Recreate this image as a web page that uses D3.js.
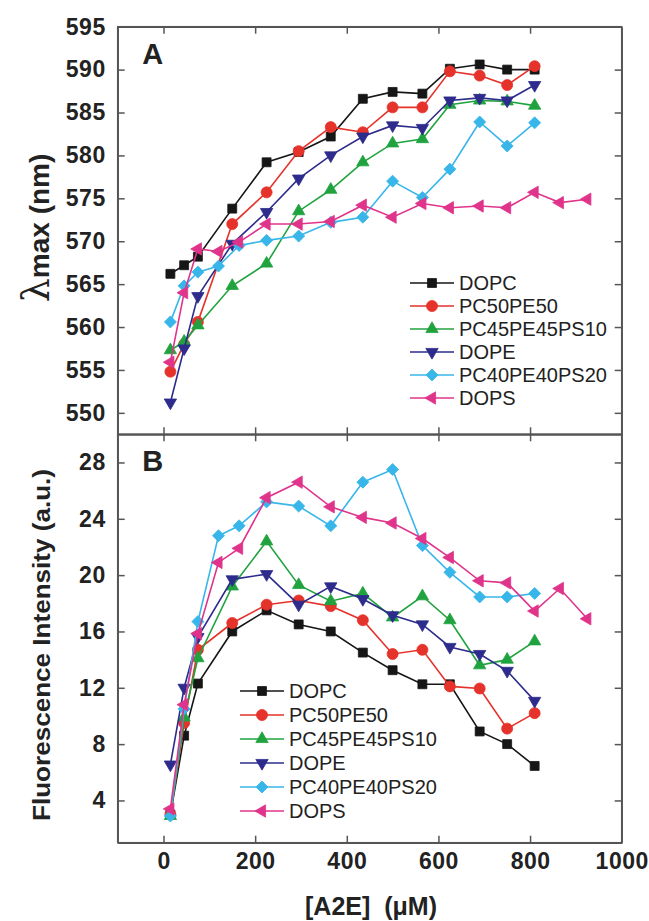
<!DOCTYPE html>
<html>
<head>
<meta charset="utf-8">
<script src="https://cdn.jsdelivr.net/npm/d3@7.9.0/dist/d3.min.js"></script>
<style>
  body { margin: 0; background: #fff; }
  svg { display: block; font-family: "Liberation Sans", Arial, sans-serif; }
  .tick text { font-weight: bold; font-size: 23px; fill: #222; letter-spacing: 0.5px; }
  .tick line, .domain { stroke: #555; stroke-width: 1.5; }
</style>
</head>
<body>
<svg width="649" height="921"></svg>
<script>
// concentrations of A2E (uM) -- two series were sampled at 120/165 instead of 150
const xMain = [15, 45, 75, 150, 225, 295, 365, 435, 500, 565, 625, 690, 750, 810];
const xAlt = [15, 45, 75, 120, 165, 225, 295, 365, 435, 500, 565, 625, 690, 750, 810];
const xDops = [15, 45, 75, 120, 165, 225, 295, 365, 435, 500, 565, 625, 690, 750, 810, 865, 925];

const seriesNames = ['DOPC', 'PC50PE50', 'PC45PE45PS10', 'DOPE', 'PC40PE40PS20', 'DOPS'];

// panel A: lambda max (nm)
const lamDOPC = [566.2, 567.2, 568.2, 573.8, 579.2, 580.4, 582.2, 586.6, 587.4, 587.2, 590.1, 590.6, 590.0, 590.0];
const lamPC50 = [554.8, 558.0, 560.6, 572.0, 575.7, 580.5, 583.3, 582.7, 585.6, 585.6, 589.8, 589.3, 588.2, 590.4];
const lamPC45 = [557.3, 558.3, 560.2, 564.8, 567.4, 573.5, 576.0, 579.2, 581.4, 581.9, 585.9, 586.4, 586.3, 585.8];
const lamDOPE = [551.2, 557.5, 563.6, 569.7, 573.4, 577.3, 580.0, 582.2, 583.5, 583.2, 586.4, 586.7, 586.4, 588.2];
const lamPC40 = [560.6, 564.8, 566.4, 567.1, 569.5, 570.1, 570.6, 572.2, 572.8, 577.0, 575.1, 578.4, 583.9, 581.1, 583.8];
const lamDOPS = [555.9, 564.0, 569.1, 568.8, 569.9, 572.0, 572.0, 572.3, 574.2, 572.8, 574.4, 573.9, 574.1, 573.9, 575.7, 574.5, 574.9];

// panel B: fluorescence intensity (a.u.)
const flDOPC = [3.0, 8.6, 12.3, 16.0, 17.5, 16.5, 16.0, 14.5, 13.25, 12.25, 12.25, 8.9, 8.0, 6.45];
const flPC50 = [3.0, 9.5, 14.7, 16.6, 17.9, 18.2, 17.8, 16.8, 14.4, 14.7, 12.1, 11.95, 9.1, 10.2];
const flPC45 = [2.9, 9.9, 14.1, 19.2, 22.4, 19.3, 18.15, 18.7, 17.0, 18.5, 16.8, 13.6, 14.0, 15.3];
const flDOPE = [6.55, 12.0, 15.6, 19.7, 20.07, 17.9, 19.2, 18.3, 17.15, 16.5, 14.9, 14.4, 13.2, 11.07];
const flPC40 = [2.9, 10.5, 16.7, 22.8, 23.5, 25.2, 24.9, 23.5, 26.6, 27.5, 22.1, 20.2, 18.45, 18.45, 18.7];
const flDOPS = [3.4, 10.8, 15.85, 20.9, 21.9, 25.5, 26.6, 24.85, 24.1, 23.7, 22.6, 21.25, 19.6, 19.45, 17.45, 19.05, 16.9];

const xTicks = [0, 200, 400, 600, 800, 1000];
const lamTicks = [550, 555, 560, 565, 570, 575, 580, 585, 590, 595];
const flTicks = [4, 8, 12, 16, 20, 24, 28];

// styles per series: colour, marker shape, rotation
const colors = ['#161616', '#e5322a', '#20a33f', '#2d2c8c', '#38b6ea', '#e0348b'];
const shapes = ['square', 'circle', 'tri', 'tri', 'diamond', 'tri'];
const rotations = [0, 0, 0, 180, 0, -90];

const svg = d3.select('svg');
const left = 117.7, right = 621.7;
const x = d3.scaleLinear().domain([-100, 1000]).range([left, right]);
const yA = d3.scaleLinear().domain([547.5, 595]).range([434.3, 26.7]);
const yB = d3.scaleLinear().domain([1, 30]).range([842.7, 434.3]);

function symbolPath(shape) {
  if (shape === 'square') return d3.symbol(d3.symbolSquare, 80)();
  if (shape === 'circle') return d3.symbol(d3.symbolCircle, 95)();
  if (shape === 'diamond') return d3.symbol(d3.symbolSquare, 72)();
  return d3.symbol(d3.symbolTriangle, 66)();
}

function drawMarker(g, i, px, py) {
  let rot = rotations[i];
  if (shapes[i] === 'diamond') rot = 45;
  g.append('path')
    .attr('d', symbolPath(shapes[i]))
    .attr('transform', `translate(${px},${py}) rotate(${rot})`)
    .attr('fill', colors[i])
    .attr('stroke', colors[i])
    .attr('stroke-width', 0.8);
}

function drawPanel(y, xs, ys, yTicks, top, bottom, letter) {
  const g = svg.append('g');

  // axes with inward ticks on all four sides
  g.append('g').attr('transform', `translate(${left},0)`)
    .call(d3.axisLeft(y).tickValues(yTicks).tickSizeInner(-7).tickSizeOuter(0).tickPadding(12));
  g.append('g').attr('transform', `translate(${right},0)`)
    .call(d3.axisRight(y).tickValues(yTicks).tickSizeInner(-7).tickSizeOuter(0).tickFormat(''));
  g.append('g').attr('transform', `translate(0,${top})`)
    .call(d3.axisTop(x).tickValues(xTicks).tickSizeInner(-7).tickSizeOuter(0).tickFormat(''));
  const bot = g.append('g').attr('transform', `translate(0,${bottom})`)
    .call(d3.axisBottom(x).tickValues(xTicks).tickSizeInner(-7).tickSizeOuter(0)
      .tickPadding(10).tickFormat(d3.format('d')));
  if (letter === 'A') bot.selectAll('text').remove();
  g.selectAll('.tick').filter(d => d === 1000).select('line').remove();

  g.append('rect')
    .attr('x', left).attr('y', top)
    .attr('width', right - left).attr('height', bottom - top)
    .attr('fill', 'none').attr('stroke', '#555').attr('stroke-width', 1.5);

  g.append('text').text(letter)
    .attr('x', 152.7).attr('y', top + 37)
    .attr('text-anchor', 'middle')
    .attr('font-weight', 'bold').attr('font-size', 29).attr('fill', '#222');

  const line = d3.line().x(d => x(d[0])).y(d => y(d[1]));
  ys.forEach((vals, i) => {
    const pts = xs[i].map((v, j) => [v, vals[j]]);
    g.append('path').datum(pts)
      .attr('d', line)
      .attr('fill', 'none')
      .attr('stroke', colors[i])
      .attr('stroke-width', 1.6);
    pts.forEach(p => drawMarker(g, i, x(p[0]), y(p[1])));
  });
}

function drawLegend(x0, y0, step) {
  const g = svg.append('g');
  seriesNames.forEach((name, i) => {
    const yy = y0 + i * step;
    g.append('line')
      .attr('x1', x0).attr('x2', x0 + 44)
      .attr('y1', yy).attr('y2', yy)
      .attr('stroke', colors[i]).attr('stroke-width', 1.6);
    drawMarker(g, i, x0 + 22, yy);
    g.append('text').text(name)
      .attr('x', x0 + 49).attr('y', yy + 7)
      .attr('font-size', 20).attr('fill', '#222');
  });
}

const xsAll = [xMain, xMain, xMain, xMain, xAlt, xDops];
drawPanel(yA, xsAll, [lamDOPC, lamPC50, lamPC45, lamDOPE, lamPC40, lamDOPS], lamTicks, 26.7, 434.3, 'A');
drawPanel(yB, xsAll, [flDOPC, flPC50, flPC45, flDOPE, flPC40, flDOPS], flTicks, 434.3, 842.7, 'B');

drawLegend(410, 283, 23);
drawLegend(240, 691, 24);

// axis titles
const lt = svg.append('text')
  .attr('transform', 'translate(49,228) rotate(-90)')
  .attr('text-anchor', 'middle')
  .attr('font-size', 28).attr('font-weight', 'bold').attr('fill', '#222');
lt.append('tspan').text('λ').attr('font-weight', 'normal').attr('font-size', 38).attr('font-family', 'DejaVu Serif');
lt.append('tspan').text('max (nm)');

svg.append('text')
  .attr('transform', 'translate(50,645) rotate(-90)')
  .attr('text-anchor', 'middle')
  .attr('font-size', 24).attr('font-weight', 'bold').attr('fill', '#222')
  .attr('textLength', 352).attr('lengthAdjust', 'spacingAndGlyphs')
  .text('Fluorescence Intensity (a.u.)');

svg.append('text')
  .attr('x', 371).attr('y', 915)
  .attr('text-anchor', 'middle')
  .attr('font-size', 25).attr('font-weight', 'bold').attr('fill', '#222')
  .attr('xml:space', 'preserve')
  .text('[A2E]  (μM)');
</script>
</body>
</html>
